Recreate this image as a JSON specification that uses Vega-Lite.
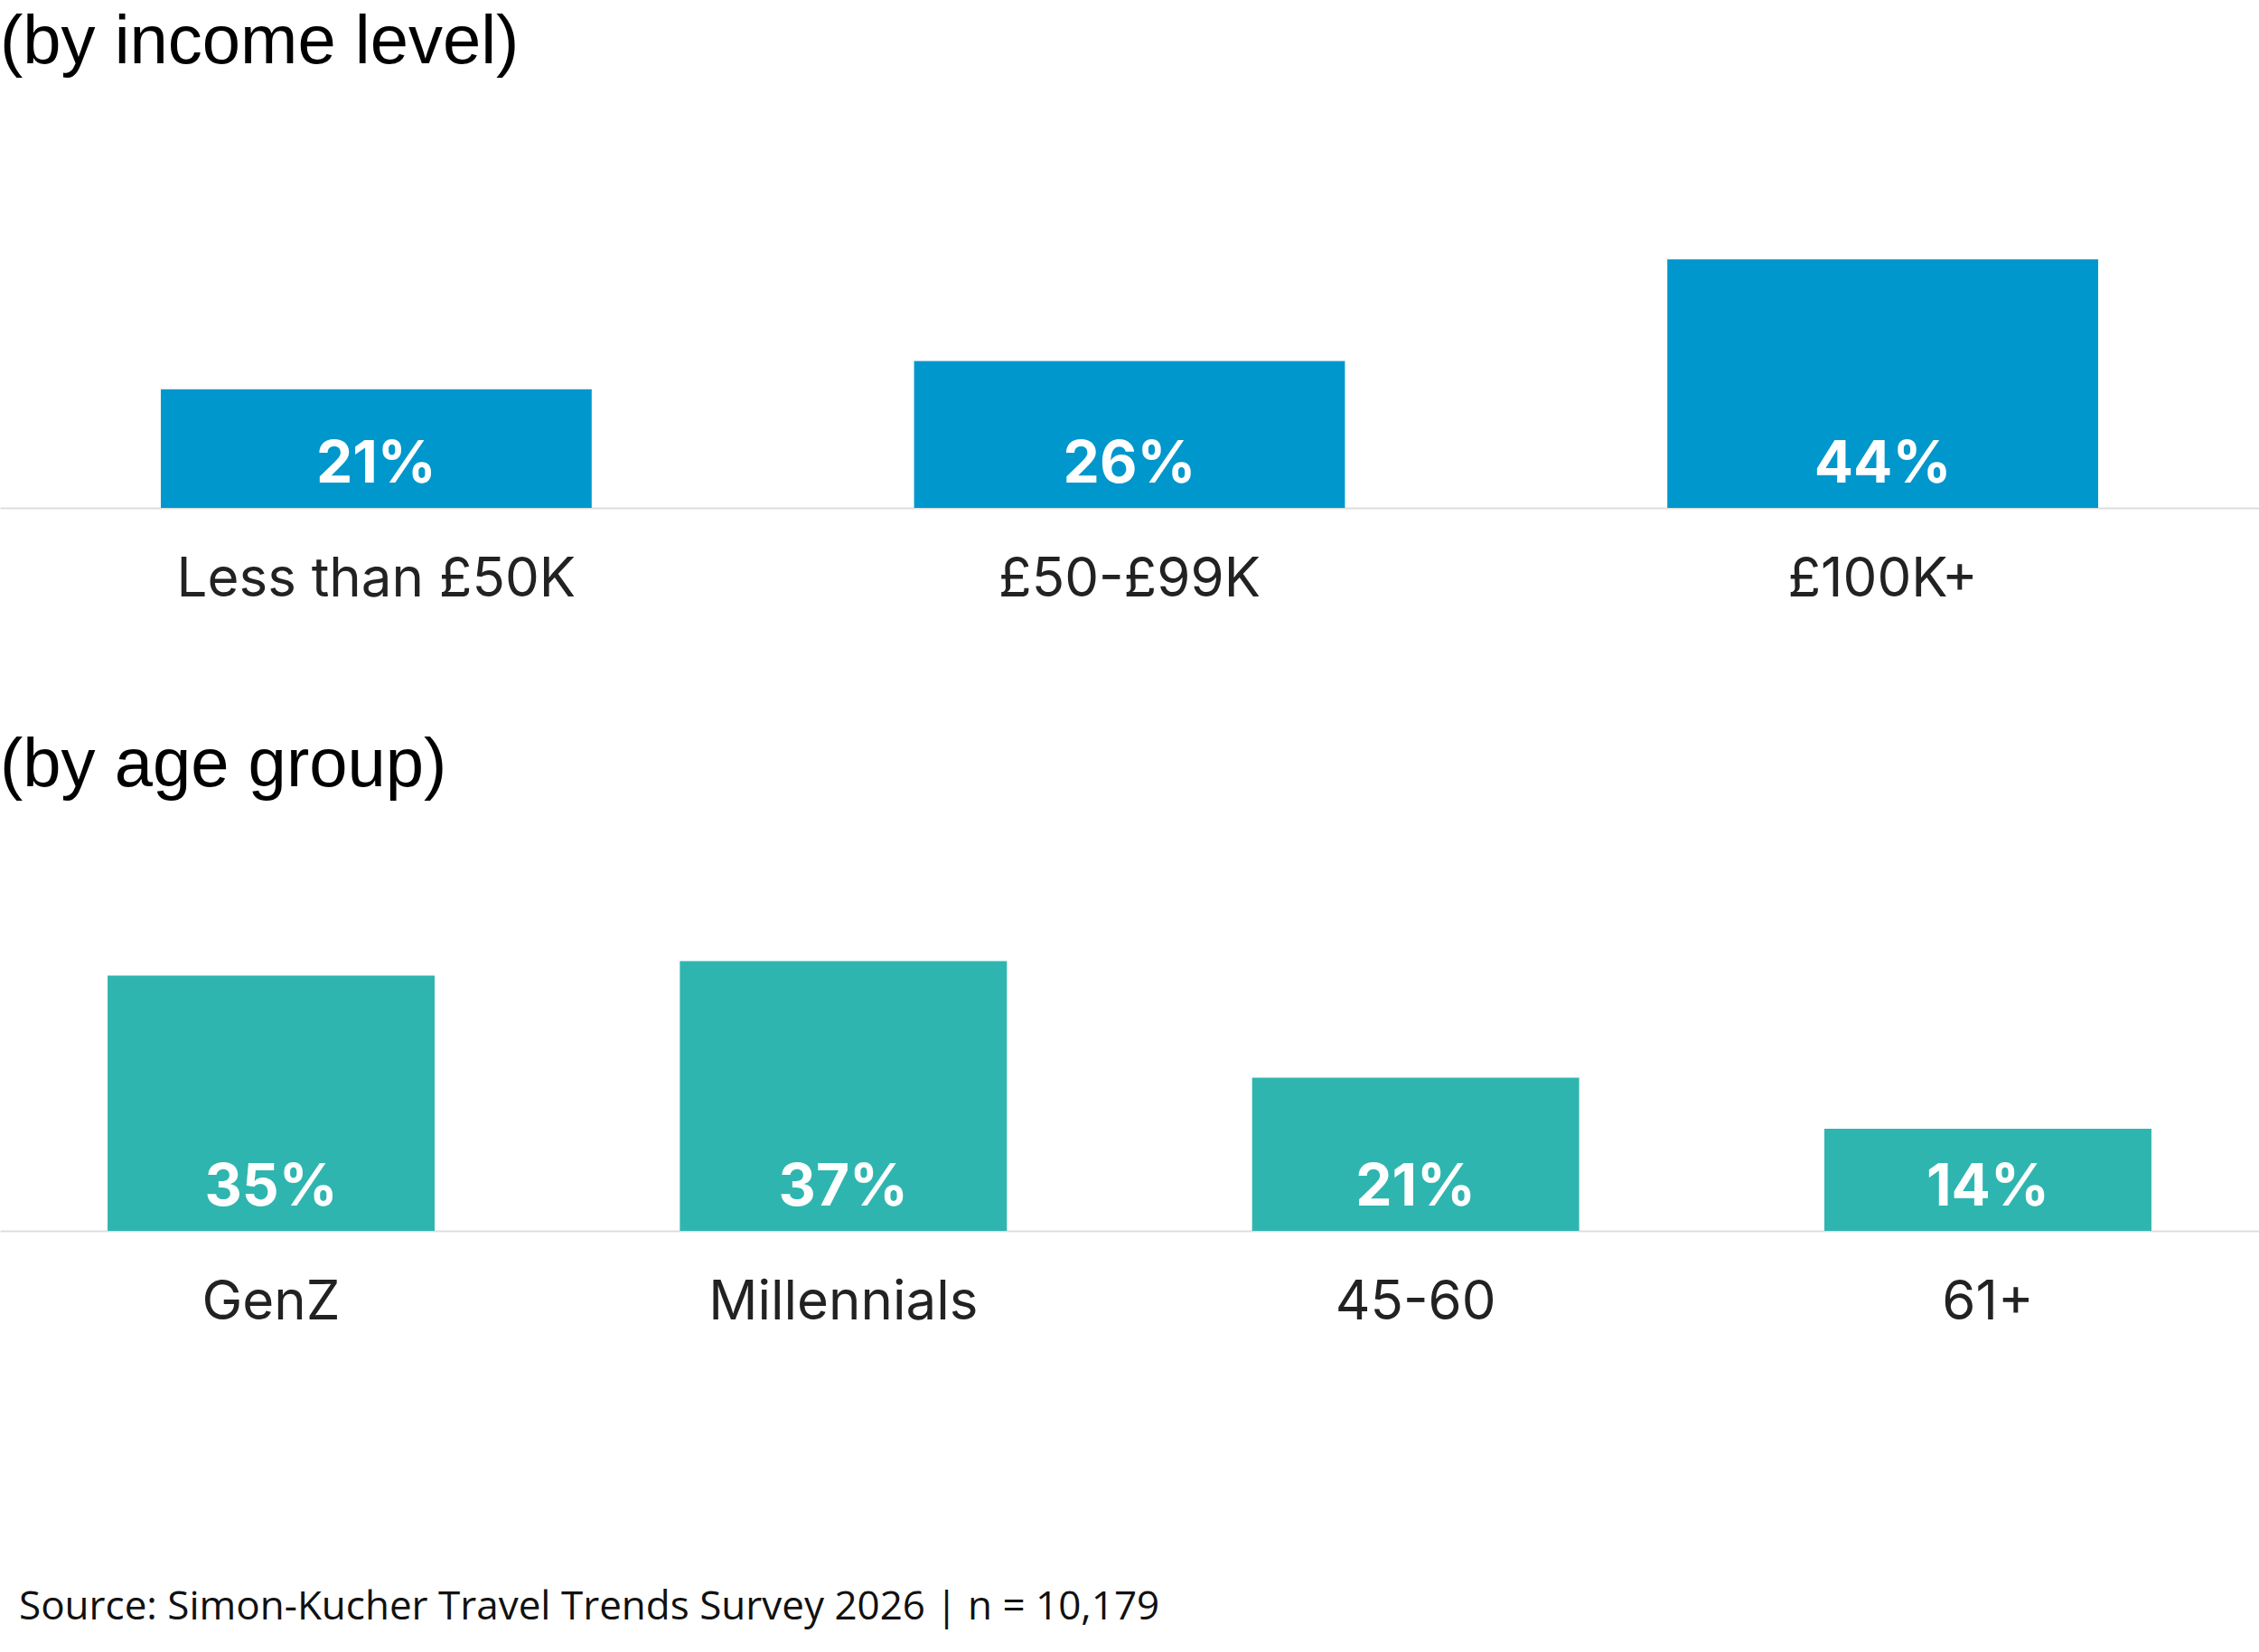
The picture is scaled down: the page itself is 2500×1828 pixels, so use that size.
{
  "$schema": "https://vega.github.io/schema/vega-lite/v6.json",
  "padding": {"left": 0, "top": 9, "right": 0, "bottom": 24},
  "background": "white",
  "bounds": "flush",
  "spacing": 350,
  "config": {
    "view": {"stroke": null},
    "axisX": {
      "title": null,
      "labelAngle": 0,
      "ticks": false,
      "tickSize": 0,
      "grid": false,
      "domainColor": "#dddddd",
      "domainWidth": 2,
      "labelFont": "Inter",
      "labelFontSize": 60,
      "labelColor": "#222222",
      "labelBaseline": "alphabetic",
      "labelPadding": 97,
      "labelLimit": 0,
      "labelOverlap": false
    }
  },
  "title": {
    "text": "Source: Simon-Kucher Travel Trends Survey 2026 | n = 10,179",
    "orient": "bottom",
    "anchor": "start",
    "font": "Open Sans",
    "fontSize": 44,
    "fontWeight": "normal",
    "color": "#111111",
    "offset": 286,
    "dx": 21
  },
  "vconcat": [
    {
      "title": {
        "text": "(by income level)",
        "anchor": "start",
        "font": "Liberation Sans",
        "fontSize": 76,
        "fontWeight": "normal",
        "color": "#000000",
        "offset": 26
      },
      "width": 2500,
      "height": 450,
      "data": {
        "values": [
          {"group": "Less than £50K", "share": 0.21},
          {"group": "£50-£99K", "share": 0.26},
          {"group": "£100K+", "share": 0.44}
        ]
      },
      "encoding": {
        "x": {
          "field": "group",
          "type": "nominal",
          "sort": null,
          "scale": {"paddingInner": 0.428, "paddingOuter": 0.2135}
        },
        "y": {
          "field": "share",
          "type": "quantitative",
          "scale": {"domain": [0, 0.72]},
          "axis": null
        }
      },
      "layer": [
        {"mark": {"type": "bar", "color": "#0097CC"}},
        {
          "mark": {
            "type": "text",
            "color": "white",
            "font": "Inter",
            "fontWeight": "bold",
            "fontSize": 64,
            "baseline": "alphabetic",
            "dy": -28
          },
          "encoding": {
            "y": {"datum": 0},
            "text": {"field": "share", "type": "quantitative", "format": ".0%"}
          }
        }
      ]
    },
    {
      "title": {
        "text": "(by age group)",
        "anchor": "start",
        "font": "Liberation Sans",
        "fontSize": 76,
        "fontWeight": "normal",
        "color": "#000000",
        "offset": 26
      },
      "width": 2500,
      "height": 450,
      "data": {
        "values": [
          {"group": "GenZ", "share": 0.35},
          {"group": "Millennials", "share": 0.37},
          {"group": "45-60", "share": 0.21},
          {"group": "61+", "share": 0.14}
        ]
      },
      "encoding": {
        "x": {
          "field": "group",
          "type": "nominal",
          "sort": null,
          "scale": {"paddingInner": 0.4285, "paddingOuter": 0.188}
        },
        "y": {
          "field": "share",
          "type": "quantitative",
          "scale": {"domain": [0, 0.5576]},
          "axis": null
        }
      },
      "layer": [
        {"mark": {"type": "bar", "color": "#2FB5AF"}},
        {
          "mark": {
            "type": "text",
            "color": "white",
            "font": "Inter",
            "fontWeight": "bold",
            "fontSize": 64,
            "baseline": "alphabetic",
            "dy": -28
          },
          "encoding": {
            "y": {"datum": 0},
            "text": {"field": "share", "type": "quantitative", "format": ".0%"}
          }
        }
      ]
    }
  ]
}
